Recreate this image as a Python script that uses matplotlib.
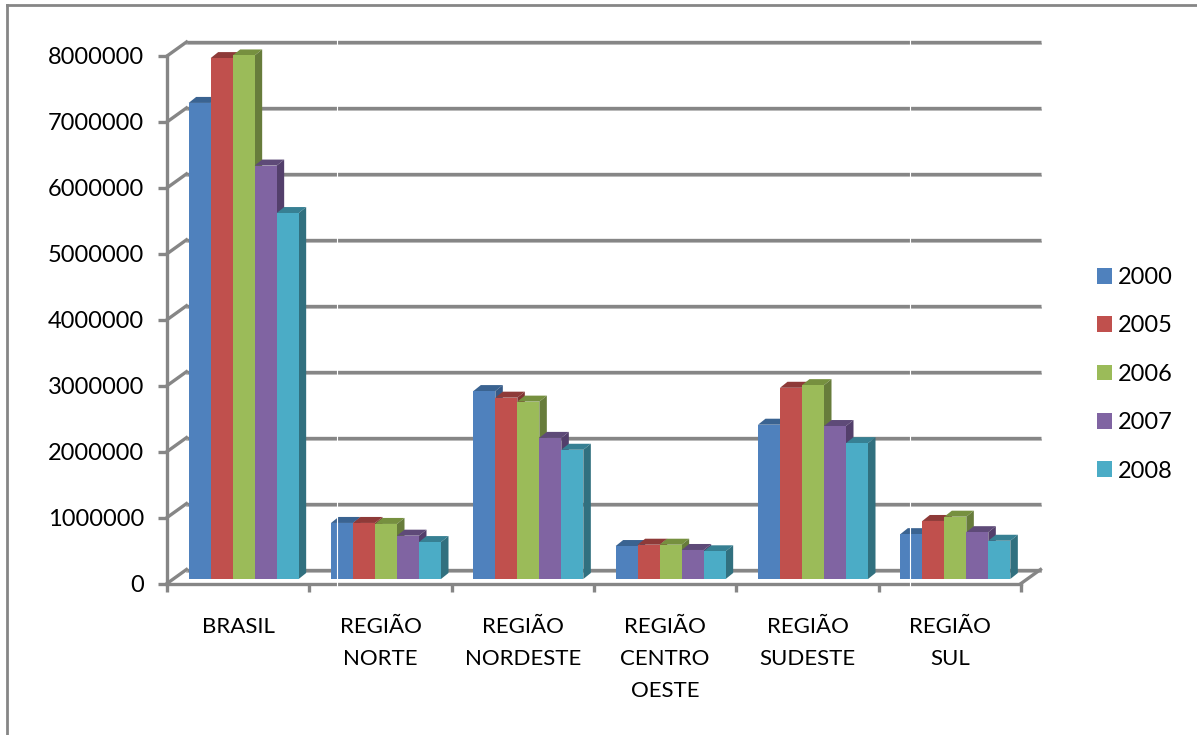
import matplotlib
matplotlib.use('Agg')
import matplotlib.pyplot as plt
from matplotlib.lines import Line2D
from matplotlib.patches import Patch, Polygon
from matplotlib.transforms import Affine2D, IdentityTransform

categories = ['BRASIL', 'REGIÃO\nNORTE', 'REGIÃO\nNORDESTE', 'REGIÃO\nCENTRO\nOESTE', 'REGIÃO\nSUDESTE', 'REGIÃO\nSUL']
years = ['2000', '2005', '2006', '2007', '2008']
v2000 = [7220000, 850000, 2850000, 500000, 2340000, 680000]
v2005 = [7900000, 850000, 2750000, 520000, 2900000, 880000]
v2006 = [7940000, 835000, 2690000, 520000, 2940000, 945000]
v2007 = [6270000, 657000, 2140000, 440000, 2320000, 710000]
v2008 = [5550000, 560000, 1960000, 420000, 2060000, 580000]
series = [v2000, v2005, v2006, v2007, v2008]
y_ticks = [0, 1000000, 2000000, 3000000, 4000000, 5000000, 6000000, 7000000, 8000000]

colors = ['#4F81BD', '#C0504D', '#9BBB59', '#8064A2', '#4BACC6']
tops = ['#3A6391', '#8E3A38', '#76903F', '#5E4A78', '#378093']
sides = ['#365A86', '#7F3432', '#677C3B', '#533F6B', '#31707F']
GREY = '#868686'

W, H = 1197, 735
plt.rcParams['font.family'] = ['Lato', 'DejaVu Sans']
plt.rcParams['font.size'] = 17

fig = plt.figure(figsize=(W / 100, H / 100), dpi=100)
fig.patch.set_facecolor('w')
ax = fig.add_axes([167 / W, (H - 583.5) / H, 854 / W, 527.5 / H])
ax.set_xlim(0, 6)
ax.set_ylim(0, 8000000)
ax.patch.set_alpha(0)

# data units per pixel
px_x = 6 / 854
px_y = 8000000 / 527.5

# walls and bars sit on planes shifted away from the front axes
back = ax.transData + Affine2D().translate(19.5, 14)
front = ax.transData + Affine2D().translate(5.5, 4.5)

for t in y_ticks:
    ax.plot([0, 6], [t, t], color='#c4c4c4', lw=1.4, transform=back + Affine2D().translate(0, -2), clip_on=False, zorder=1)
    ax.plot([0, 6], [t, t], color=GREY, lw=2.4, transform=back, clip_on=False, zorder=1.1, solid_capstyle='butt')
    ax.plot([0, 19.5 * px_x], [t, t + 14 * px_y], color=GREY, lw=2.4, clip_on=False, zorder=1.1)
# floor edge on the right
ax.plot([6, 6 + 19.5 * px_x], [0, 14 * px_y], color=GREY, lw=2.4, clip_on=False, zorder=1.1)

bar_w = 22 / 142.33
dx = 7.5 * px_x
dy = 6 * px_y
z = 3
for i in range(len(categories)):
    for j in range(len(years)):
        val = series[j][i]
        x0 = i + 0.5 + (j - 2.5) * bar_w
        x1 = x0 + bar_w
        ax.add_patch(Polygon([(x0, val), (x1, val), (x1 + dx, val + dy), (x0 + dx, val + dy)],
                             facecolor=tops[j], edgecolor='none', transform=front, clip_on=False, zorder=z))
        ax.add_patch(Polygon([(x1, 0), (x1 + dx, dy), (x1 + dx, val + dy), (x1, val)],
                             facecolor=sides[j], edgecolor='none', transform=front, clip_on=False, zorder=z))
        ax.bar(x0, val, width=bar_w, align='edge', color=colors[j], transform=front, clip_on=False, zorder=z + 0.1)
        z += 1

for s in ['top', 'right']:
    ax.spines[s].set_visible(False)
for s in ['left', 'bottom']:
    ax.spines[s].set_color(GREY)
    ax.spines[s].set_linewidth(2.4)

ax.set_yticks(y_ticks)
ax.set_yticklabels([str(t) for t in y_ticks])
ax.tick_params(axis='y', length=6.5, width=2.4, color=GREY, pad=10, labelcolor='k')
ax.set_xticks(range(7))
ax.set_xticklabels([])
ax.tick_params(axis='x', which='major', length=6, width=2.4, color=GREY)
ax.set_xticks([i + 0.5 for i in range(6)], minor=True)
ax.set_xticklabels(categories, minor=True, fontsize=16, linespacing=1.75, color='k')
ax.tick_params(axis='x', which='minor', length=0, pad=24)
ax.set_xlim(0, 6)
ax.set_ylim(0, 8000000)

handles = [Patch(facecolor=c, edgecolor='none', label=y) for c, y in zip(colors, years)]
fig.legend(handles=handles, loc='upper left', bbox_to_anchor=(1097 / W, (H - 267) / H), frameon=False,
           handlelength=0.65, handleheight=0.65, handletextpad=0.25, labelspacing=1.16, labelcolor='k',
           borderpad=0, borderaxespad=0)

# outer frame, top and left only
pix = IdentityTransform()
fig.add_artist(Line2D([7, 7], [0, H - 5], color=GREY, lw=2, transform=pix))
fig.add_artist(Line2D([7, W], [H - 5, H - 5], color=GREY, lw=2, transform=pix))
# thin white seams running through the plot
for sx in [337, 910]:
    fig.add_artist(Line2D([sx, sx], [H - 600, H - 20], color='w', lw=0.8, transform=pix, zorder=10))

fig.savefig('out.png', dpi=100)
